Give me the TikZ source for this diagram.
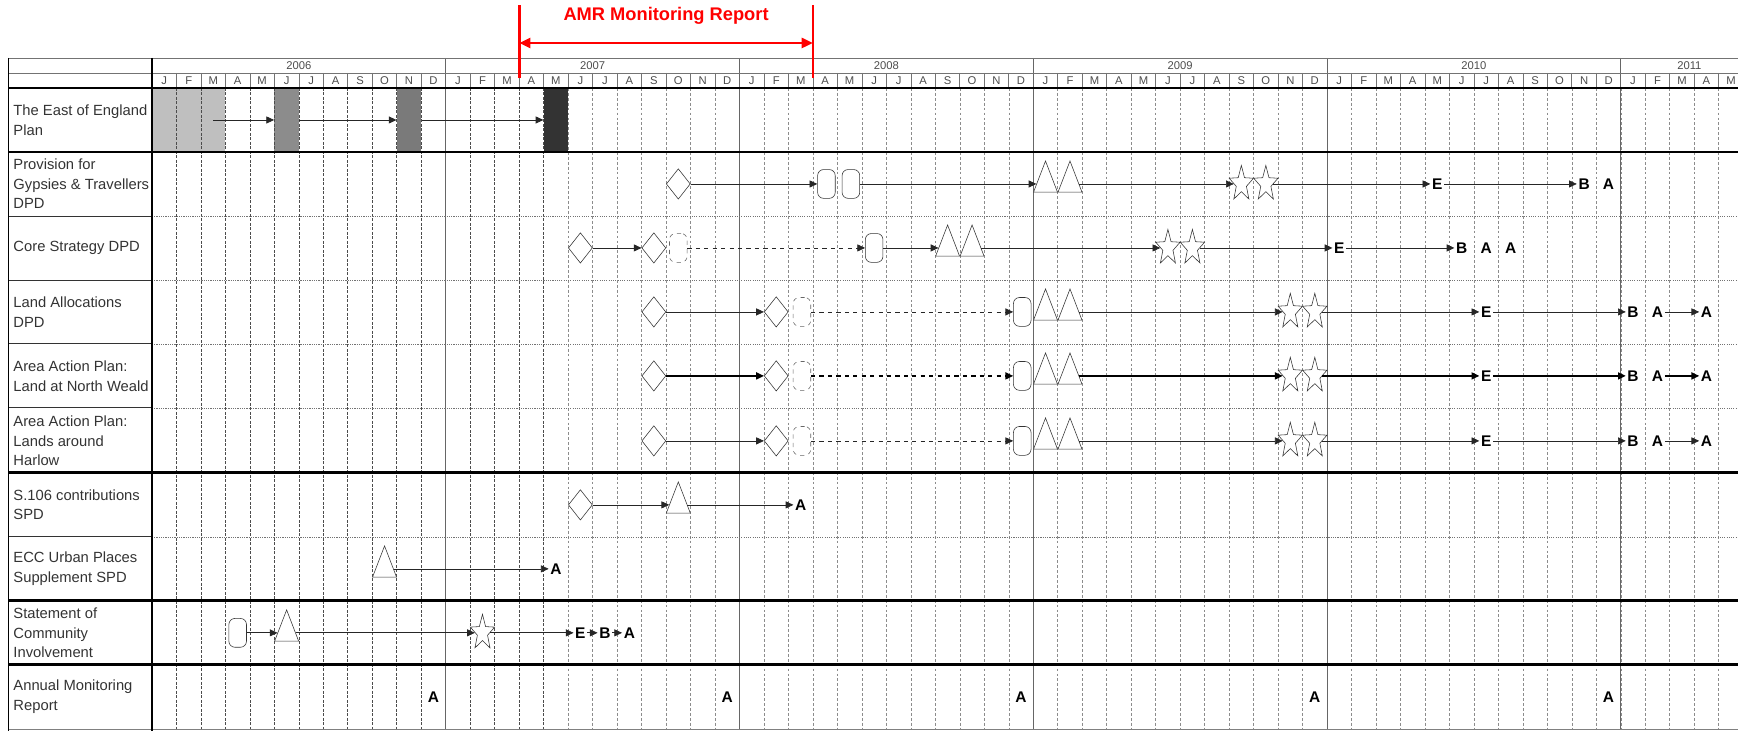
\documentclass[tikz,border=0pt]{standalone}
\usepackage{fontspec}
\setmainfont{Liberation Sans}
\usetikzlibrary{shapes.geometric,arrows.meta}

\begin{document}
\begin{tikzpicture}[
  x=0.612cm, y=-0.025cm,
  every node/.style={font=\fontsize{10.5}{14}\selectfont},
  rowlabel/.style={anchor=west, align=left, inner sep=0pt, text=black!80},
  headlbl/.style={font=\fontsize{8}{8}\selectfont, text=black!70, inner sep=0pt},
  cell/.style={rectangle, inner sep=0pt, minimum width=0.612cm, minimum height=1.6cm},
  diam/.style={diamond, draw=black!80, fill=white, inner sep=0pt, minimum width=0.6cm, minimum height=0.76cm},
  tri/.style={isosceles triangle, isosceles triangle stretches, shape border rotate=90, draw=black!80, fill=white, inner sep=0pt, minimum width=0.6cm, minimum height=0.78cm},
  pill/.style={rectangle, rounded corners=1.5mm, draw=black!80, fill=white, inner sep=0pt, minimum width=0.44cm, minimum height=0.72cm},
  dpill/.style={pill, dashed, draw=black!60},
  starr/.style={star, star points=5, star point ratio=2.4, draw=black!80, fill=white, inner sep=0pt, minimum size=0.64cm, yscale=1.45},
  letter/.style={font=\bfseries\fontsize{11}{11}\selectfont, inner sep=1pt},
  link/.style={draw=black!85, line width=0.5pt, -{Triangle[length=5.5pt,width=5pt]}},
  blink/.style={link, draw=black, line width=1pt},
  dlink/.style={link, dashed},
  dblink/.style={blink, dashed},
  thickrule/.style={line width=2pt},
  darkgrid/.style={black!70, dash pattern=on 2pt off 1.2pt, line width=0.5pt},
  lightgrid/.style={black!45, dash pattern=on 2pt off 1.5pt, line width=0.4pt},
  rowgrid/.style={black!55, dash pattern=on 0.8pt off 0.8pt, line width=0.5pt}
]
\useasboundingbox (-6.209,0) rectangle (64.788,731);
\clip (-6.209,0) rectangle (64.788,731);

% East of England Plan shading
\node[cell, fill=black!25, minimum width=1.836cm] (eoeQ1) at (1.5,120) {};
\node[cell, fill=black!45] (eoeJun) at (5.5,120) {};
\node[cell, fill=black!52] (eoeNov) at (10.5,120) {};
\node[cell, fill=black!80] (eoeMay) at (16.5,120) {};
\coordinate (eoeStart) at (2.5,120);

% grid
\foreach \c in {1,...,16} \draw[darkgrid] (\c,88) -- (\c,729);
\foreach \c in {17,...,64} \draw[lightgrid] (\c,88) -- (\c,729);
\foreach \c in {1,...,64} \draw[black!55, line width=0.5pt] (\c,73) -- (\c,88);
\foreach \c in {12,24,...,60} \draw[black!60, line width=0.7pt] (\c,58) -- (\c,729);
\foreach \r in {216,280,344,408,537} {
  \draw[black!80, line width=0.6pt] (-5.846,\r) -- (0,\r);
  \draw[rowgrid] (0,\r) -- (64.8,\r);
}
\draw[black!55, line width=0.6pt] (-5.846,58) -- (64.8,58);
\draw[black!55, line width=0.6pt] (-5.846,73) -- (64.8,73);
\draw[line width=1pt] (-5.846,88) -- (64.8,88);
\draw[black!50, line width=0.6pt] (-5.846,730) -- (64.8,730);
\foreach \r in {152,473,601,665} \draw[thickrule] (-5.846,\r) -- (64.8,\r);
\draw[line width=0.8pt] (-5.846,58) -- (-5.846,731);
\draw[line width=0.8pt] (0,58) -- (0,731);

% header
\foreach \yr [count=\i from 0] in {2006,2007,2008,2009,2010}
  \node[headlbl] at (12*\i+6,65.5) {\yr};
\node[headlbl] at (62.8,65.5) {2011};
\foreach \yr in {0,...,4}
  \foreach \m [count=\i from 0] in {J,F,M,A,M,J,J,A,S,O,N,D}
    \node[headlbl] at (12*\yr+\i+0.5,80.5) {\m};
\foreach \m [count=\i from 0] in {J,F,M,A,M}
  \node[headlbl] at (60+\i+0.5,80.5) {\m};

% AMR period
\node[font=\bfseries\fontsize{13}{13}\selectfont, text=red] (amrTitle) at (21,16) {AMR Monitoring Report};
\draw[red, line width=2pt] (15,5) -- (15,78);
\draw[red, line width=2pt] (27,5) -- (27,78);
\coordinate (amrL) at (15,43);
\coordinate (amrR) at (27,43);
\draw[red, line width=2pt, {Triangle[length=8pt,width=7pt]}-{Triangle[length=8pt,width=7pt]}] (amrL) -- (amrR);

% row labels
\node[rowlabel] (lab0) at (-5.67,120) {The East of England\\Plan};
\node[rowlabel] (lab1) at (-5.67,184) {Provision for\\Gypsies \& Travellers\\DPD};
\node[rowlabel] (lab2) at (-5.67,248) {Core Strategy DPD};
\node[rowlabel] (lab3) at (-5.67,312) {Land Allocations\\DPD};
\node[rowlabel] (lab4) at (-5.67,376) {Area Action Plan:\\Land at North Weald};
\node[rowlabel] (lab5) at (-5.67,441) {Area Action Plan:\\Lands around\\Harlow};
\node[rowlabel] (lab6) at (-5.67,505) {S.106 contributions\\SPD};
\node[rowlabel] (lab7) at (-5.67,569) {ECC Urban Places\\Supplement SPD};
\node[rowlabel] (lab8) at (-5.67,633) {Statement of\\Community\\Involvement};
\node[rowlabel] (lab9) at (-5.67,697) {Annual Monitoring\\Report};

% East of England Plan
\draw[link] (eoeStart) -- (eoeJun);
\draw[link] (eoeJun) -- (eoeNov);
\draw[link] (eoeNov) -- (eoeMay);

% Provision for Gypsies & Travellers
\node[diam] (pD) at (21.5,184) {};
\node[pill] (pO1) at (27.55,184) {};
\node[pill] (pO2) at (28.55,184) {};
\node[tri] (pT1) at (36.5,184) {};
\node[tri] (pT2) at (37.5,184) {};
\node[starr] (pS1) at (44.5,184) {};
\node[starr] (pS2) at (45.5,184) {};
\node[letter] (pE) at (52.5,184) {E};
\node[letter] (pB) at (58.5,184) {B};
\node[letter] (pA) at (59.5,184) {A};
\draw[link] (pD) -- (pO1);
\draw[link] (pO2) -- (pT1);
\draw[link] (pT2) -- (pS1);
\draw[link] (pS2) -- (pE);
\draw[link] (pE) -- (pB);

% Core Strategy
\node[diam] (cD1) at (17.5,248) {};
\node[diam] (cD2) at (20.5,248) {};
\node[dpill] (cP0) at (21.5,248) {};
\node[pill] (cP) at (29.5,248) {};
\node[tri] (cT1) at (32.5,248) {};
\node[tri] (cT2) at (33.5,248) {};
\node[starr] (cS1) at (41.5,248) {};
\node[starr] (cS2) at (42.5,248) {};
\node[letter] (cE) at (48.5,248) {E};
\node[letter] (cB) at (53.5,248) {B};
\node[letter] (cA1) at (54.5,248) {A};
\node[letter] (cA2) at (55.5,248) {A};
\draw[link] (cD1) -- (cD2);
\draw[dlink] (cP0) -- (cP);
\draw[link] (cP) -- (cT1);
\draw[link] (cT2) -- (cS1);
\draw[link] (cS2) -- (cE);
\draw[link] (cE) -- (cB);

% Land Allocations
\node[diam] (lD1) at (20.5,312) {};
\node[diam] (lD2) at (25.5,312) {};
\node[dpill] (lP0) at (26.55,312) {};
\node[pill] (lP) at (35.55,312) {};
\node[tri] (lT1) at (36.5,312) {};
\node[tri] (lT2) at (37.5,312) {};
\node[starr] (lS1) at (46.5,312) {};
\node[starr] (lS2) at (47.5,312) {};
\node[letter] (lE) at (54.5,312) {E};
\node[letter] (lB) at (60.5,312) {B};
\node[letter] (lA1) at (61.5,312) {A};
\node[letter] (lA2) at (63.5,312) {A};
\draw[link] (lD1) -- (lD2);
\draw[dlink] (lP0) -- (lP);
\draw[link] (lT2) -- (lS1);
\draw[link] (lS2) -- (lE);
\draw[link] (lE) -- (lB);
\draw[link] (lA1) -- (lA2);

% Area Action Plan: North Weald
\node[diam] (nD1) at (20.5,376) {};
\node[diam] (nD2) at (25.5,376) {};
\node[dpill] (nP0) at (26.55,376) {};
\node[pill] (nP) at (35.55,376) {};
\node[tri] (nT1) at (36.5,376) {};
\node[tri] (nT2) at (37.5,376) {};
\node[starr] (nS1) at (46.5,376) {};
\node[starr] (nS2) at (47.5,376) {};
\node[letter] (nE) at (54.5,376) {E};
\node[letter] (nB) at (60.5,376) {B};
\node[letter] (nA1) at (61.5,376) {A};
\node[letter] (nA2) at (63.5,376) {A};
\draw[blink] (nD1) -- (nD2);
\draw[dblink] (nP0) -- (nP);
\draw[blink] (nT2) -- (nS1);
\draw[blink] (nS2) -- (nE);
\draw[blink] (nE) -- (nB);
\draw[blink] (nA1) -- (nA2);

% Area Action Plan: Harlow
\node[diam] (hD1) at (20.5,441) {};
\node[diam] (hD2) at (25.5,441) {};
\node[dpill] (hP0) at (26.55,441) {};
\node[pill] (hP) at (35.55,441) {};
\node[tri] (hT1) at (36.5,441) {};
\node[tri] (hT2) at (37.5,441) {};
\node[starr] (hS1) at (46.5,441) {};
\node[starr] (hS2) at (47.5,441) {};
\node[letter] (hE) at (54.5,441) {E};
\node[letter] (hB) at (60.5,441) {B};
\node[letter] (hA1) at (61.5,441) {A};
\node[letter] (hA2) at (63.5,441) {A};
\draw[link] (hD1) -- (hD2);
\draw[dlink] (hP0) -- (hP);
\draw[link] (hT2) -- (hS1);
\draw[link] (hS2) -- (hE);
\draw[link] (hE) -- (hB);
\draw[link] (hA1) -- (hA2);

% S.106 contributions
\node[diam] (sD) at (17.5,505) {};
\node[tri] (sT) at (21.5,505) {};
\node[letter] (sA) at (26.5,505) {A};
\draw[link] (sD) -- (sT);
\draw[link] (sT) -- (sA);

% ECC Urban Places
\node[tri] (eT) at (9.5,569) {};
\node[letter] (eA) at (16.5,569) {A};
\draw[link] (eT) -- (eA);

% Statement of Community Involvement
\node[pill] (iP) at (3.5,633) {};
\node[tri] (iT) at (5.5,633) {};
\node[starr] (iS) at (13.5,633) {};
\node[letter] (iE) at (17.5,633) {E};
\node[letter] (iB) at (18.5,633) {B};
\node[letter] (iA) at (19.5,633) {A};
\draw[link] (iP) -- (iT);
\draw[link] (iT) -- (iS);
\draw[link] (iS) -- (iE);
\draw[link] (iE) -- (iB);
\draw[link] (iB) -- (iA);

% Annual Monitoring Report
\node[letter] (m1) at (11.5,697) {A};
\node[letter] (m2) at (23.5,697) {A};
\node[letter] (m3) at (35.5,697) {A};
\node[letter] (m4) at (47.5,697) {A};
\node[letter] (m5) at (59.5,697) {A};
\end{tikzpicture}
\end{document}
